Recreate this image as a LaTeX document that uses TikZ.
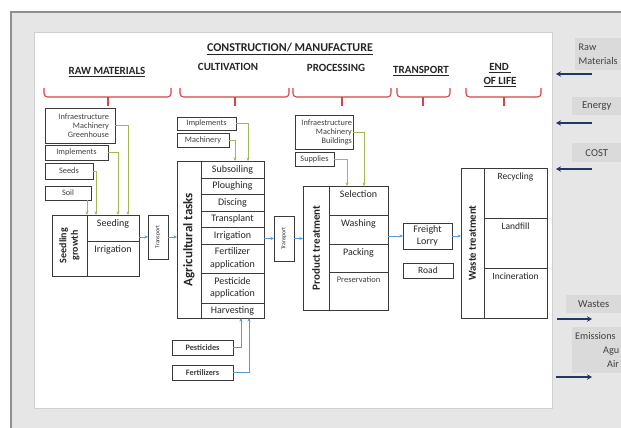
\documentclass[tikz,border=0pt]{standalone}
\usepackage{fontspec}
\setmainfont{Carlito}
\usetikzlibrary{arrows.meta}

\definecolor{bggray}{HTML}{E6E6E6}
\definecolor{lblgray}{HTML}{DADADA}
\definecolor{framegray}{HTML}{8F8F8F}
\definecolor{panelline}{HTML}{D0D0D0}
\definecolor{bracered}{HTML}{D64545}
\definecolor{linegreen}{HTML}{9BBB59}
\definecolor{lineblue}{HTML}{5B9BD5}
\definecolor{navyarrow}{HTML}{1F3864}
\definecolor{ink}{HTML}{262626}
\definecolor{softink}{HTML}{404040}
\definecolor{boxline}{HTML}{3A3A3A}

\begin{document}
\begin{tikzpicture}[x=1pt,y=-1pt,
  cell/.style={draw=boxline, line width=0.7pt, inner sep=0pt, outer sep=0pt,
    anchor=north west, text=ink, align=center,
    font=\fontsize{10}{12.5}\selectfont},
  smallbox/.style={cell, text=softink, font=\fontsize{8.3}{9}\selectfont},
  topname/.style={label={[anchor=north, yshift=-3pt, inner sep=1pt, text=ink,
    font=\fontsize{10}{12}\selectfont]north:#1}},
  heading/.style={text=ink, font=\bfseries\fontsize{11}{13.5}\selectfont,
    align=center, inner sep=0pt},
  brace/.style={draw=bracered, line width=1.1pt, rounded corners=3.5pt},
  gline/.style={draw=linegreen, line width=0.9pt,
    -{Stealth[length=3.5pt,width=3pt]}},
  bline/.style={draw=lineblue, line width=0.9pt,
    -{Stealth[length=3.5pt,width=3pt]}},
  navyline/.style={draw=navyarrow, line width=1.8pt,
    -{Stealth[length=5pt,width=5.5pt]}},
  sidebox/.style={fill=lblgray, anchor=north west, inner xsep=3pt, inner ysep=0pt,
    align=left, text=softink, font=\fontsize{10.6}{13.5}\selectfont},
]
\useasboundingbox (0,0) rectangle (621,428);
\clip (0,0) rectangle (621,428);

% page background, grey sheet and white working panel
\fill[white] (0,0) rectangle (621,428);
\fill[bggray] (11,12) rectangle (621,428);
\draw[framegray, line width=1.3pt] (11,428) -- (11,12) -- (621,12);
\draw[panelline, fill=white, line width=0.6pt] (34,32) rectangle (552,408);

% stage headings
\node[heading, font=\bfseries\fontsize{12}{14}\selectfont] (title) at (290,49)
  {\underline{CONSTRUCTION/ MANUFACTURE}};
\node[heading] (hraw)   at (107,72) {\underline{RAW MATERIALS}};
\node[heading] (hcult)  at (228,67) {CULTIVATION};
\node[heading] (hproc)  at (336,68) {PROCESSING};
\node[heading] (htrans) at (421,71) {\underline{TRANSPORT}};
\node[heading] (hend)   at (500,75) {\underline{END\,}\\\underline{OF LIFE}};

% red braces under the headings
\draw[brace] (44,88) -- (44,97) -- (171,97) -- (171,88);
\draw[brace] (108,97) -- (108,106);
\draw[brace] (180,88) -- (180,97) -- (289,97) -- (289,88);
\draw[brace] (235,97) -- (235,106);
\draw[brace] (293,88) -- (293,97) -- (391,97) -- (391,88);
\draw[brace] (342,97) -- (342,106);
\draw[brace] (397,88) -- (397,97) -- (450,97) -- (450,88);
\draw[brace] (423,97) -- (423,106);
\draw[brace] (466,88) -- (466,97) -- (541,97) -- (541,88);
\draw[brace] (504,97) -- (504,106);

% raw materials inputs
\node[smallbox, minimum width=70pt, minimum height=35pt, text width=58pt, align=right]
  (infraA) at (45,108) {Infraestructure\hspace*{4pt}\\Machinery\\Greenhouse};
\node[smallbox, minimum width=63pt, minimum height=15pt] (implA) at (45,145) {Implements};
\node[smallbox, minimum width=48pt, minimum height=16pt] (seeds) at (45,163) {Seeds};
\node[smallbox, minimum width=46pt, minimum height=14pt] (soil) at (45,186) {Soil};

% seedling block
\node[cell, minimum width=35pt, minimum height=61pt] (seedling) at (52,215) {};
\node[rotate=90, inner sep=0pt, text=ink, align=center,
  font=\bfseries\fontsize{10}{11.5}\selectfont] (seedlingtxt) at (seedling.center)
  {Seedling\\growth};
\node[cell, minimum width=52pt, minimum height=26pt, topname=Seeding] (seeding) at (87,215) {};
\node[cell, minimum width=52pt, minimum height=35pt, topname=Irrigation] (irrigA) at (87,241) {};

\node[cell, minimum width=20pt, minimum height=44pt] (trans1) at (148,215) {};
\node[rotate=90, inner sep=0pt, text=ink, font=\fontsize{5.8}{6}\selectfont]
  (trans1txt) at (trans1.center) {Transport};

% cultivation block
\node[smallbox, minimum width=59pt, minimum height=13pt] (implB) at (177,117) {Implements};
\node[smallbox, minimum width=52pt, minimum height=14pt] (machB) at (177,133) {Machinery};

\node[cell, minimum width=24pt, minimum height=157pt] (agtitle) at (177,161) {};
\node[rotate=90, inner sep=0pt, text=ink, font=\bfseries\fontsize{13}{13}\selectfont]
  (agtitletxt) at (agtitle.center) {Agricultural tasks};
\node[cell, minimum width=63pt, minimum height=17pt] (subsoil) at (201,161) {Subsoiling};
\node[cell, minimum width=63pt, minimum height=16pt] (plough) at (201,178) {Ploughing};
\node[cell, minimum width=63pt, minimum height=17pt] (disc) at (201,194) {Discing};
\node[cell, minimum width=63pt, minimum height=16pt] (transpl) at (201,211) {Transplant};
\node[cell, minimum width=63pt, minimum height=17pt] (irrigB) at (201,227) {Irrigation};
\node[cell, minimum width=63pt, minimum height=29pt] (fert) at (201,244) {Fertilizer\\application};
\node[cell, minimum width=63pt, minimum height=30pt] (pestapp) at (201,273) {Pesticide\\application};
\node[cell, minimum width=63pt, minimum height=15pt] (harvest) at (201,303) {Harvesting};

\node[smallbox, minimum width=61pt, minimum height=15pt, font=\bfseries\fontsize{8.3}{9}\selectfont]
  (pesticides) at (172,340) {Pesticides};
\node[smallbox, minimum width=61pt, minimum height=15pt, font=\bfseries\fontsize{8.3}{9}\selectfont]
  (fertilizers) at (172,365) {Fertilizers};

\node[cell, minimum width=20pt, minimum height=45pt] (trans2) at (274,216) {};
\node[rotate=90, inner sep=0pt, text=ink, font=\fontsize{5.8}{6}\selectfont]
  (trans2txt) at (trans2.center) {Transport};

% processing block
\node[smallbox, minimum width=58pt, minimum height=34pt, text width=56pt, align=right]
  (infraC) at (295,115) {Infraestructure\\Machinery\\Buildings};
\node[smallbox, minimum width=39pt, minimum height=14pt] (supplies) at (295,152) {Supplies};

\node[cell, minimum width=26pt, minimum height=124pt] (prodtitle) at (303,186) {};
\node[rotate=90, inner sep=0pt, text=ink, font=\bfseries\fontsize{11}{11}\selectfont]
  (prodtitletxt) at (prodtitle.center) {Product treatment};
\node[cell, minimum width=59pt, minimum height=29pt, topname=Selection] (selection) at (329,186) {};
\node[cell, minimum width=59pt, minimum height=29pt, topname=Washing] (washing) at (329,215) {};
\node[cell, minimum width=59pt, minimum height=28pt, topname=Packing] (packing) at (329,244) {};
\node[cell, minimum width=59pt, minimum height=38pt,
  label={[anchor=north, yshift=-3pt, inner sep=1pt, text=softink,
    font=\fontsize{8.5}{10}\selectfont]north:Preservation}] (preserv) at (329,272) {};

% transport block
\node[cell, minimum width=49pt, minimum height=26pt, font=\fontsize{10}{12}\selectfont]
  (freight) at (403,223) {Freight\\Lorry};
\node[cell, minimum width=50pt, minimum height=15pt, font=\fontsize{9.5}{11}\selectfont]
  (road) at (403,263) {Road};

% end of life block
\node[cell, minimum width=23pt, minimum height=150pt] (wastetitle) at (461,168) {};
\node[rotate=90, inner sep=0pt, text=ink, font=\bfseries\fontsize{10.7}{11}\selectfont]
  (wastetitletxt) at (wastetitle.center) {Waste treatment};
\node[cell, minimum width=63pt, minimum height=50pt,
  label={[anchor=north, yshift=-4pt, inner sep=1pt, text=ink,
    font=\fontsize{9.5}{11}\selectfont]north:Recycling}] (recycling) at (484,168) {};
\node[cell, minimum width=63pt, minimum height=50pt,
  label={[anchor=north, yshift=-4pt, inner sep=1pt, text=ink,
    font=\fontsize{9.5}{11}\selectfont]north:Landfill}] (landfill) at (484,218) {};
\node[cell, minimum width=63pt, minimum height=50pt,
  label={[anchor=north, yshift=-4pt, inner sep=1pt, text=ink,
    font=\fontsize{9.5}{11}\selectfont]north:Incineration}] (inciner) at (484,268) {};

% input lines (green)
\draw[gline] (infraA.east) -| ([xshift=41pt]seeding.north west);
\draw[gline] (implA.east) -| ([xshift=31pt]seeding.north west);
\draw[gline] (seeds.east) -| ([xshift=9pt]seeding.north west);
\draw[gline] (soil.south -| seeding.north west) -- (seeding.north west);
\draw[gline] (implB.east) -| ([xshift=47pt]subsoil.north west);
\draw[gline] (machB.east) -| ([xshift=34pt]subsoil.north west);
\draw[gline] (supplies.east) -| ([xshift=18pt]selection.north west);
\draw[gline] (infraC.east) -| ([xshift=35pt]selection.north west);

% agrochemical lines (blue)
\draw[bline] (pesticides.east) -| ([xshift=40pt]harvest.south west);
\draw[bline] (fertilizers.east) -| ([xshift=48pt]harvest.south west);

% product flow
\draw[bline] (trans1.west -| seeding.east) -- (trans1.west);
\draw[bline] (trans1.east) -- (trans1.east -| agtitle.west);
\draw[bline] (trans2.west -| irrigB.east) -- (trans2.west);
\draw[bline] (trans2.east) -- (trans2.east -| prodtitle.west);
\draw[bline] (freight.west -| washing.east) -- (freight.west);
\draw[bline] (freight.east) -- (freight.east -| wastetitle.west);

% inventory inputs and outputs (boxes run to the sheet's right edge)
\node[sidebox, minimum width=46pt, minimum height=32pt,
  font=\fontsize{10.2}{13.5}\selectfont] (rawin) at (575,38) {Raw\\Materials};
\node[sidebox, inner xsep=5pt, minimum width=49pt, minimum height=18pt] (energyin) at (572,97) {Energy};
\node[sidebox, inner xsep=5pt, minimum width=49pt, minimum height=19pt] (costin) at (572,143) {COST};
\node[sidebox, inner xsep=5pt, minimum width=55pt, minimum height=18pt] (wastesout) at (566,295) {Wastes};
\node[sidebox, minimum width=49pt, minimum height=46pt, font=\fontsize{10.2}{14}\selectfont]
  (emisout) at (572,327) {Emissions\\\hspace*{28pt}Agu\\\hspace*{32pt}Air};

\coordinate (rawA) at (592,74);   \coordinate (rawB) at (556,74);
\coordinate (enA) at (592,123);   \coordinate (enB) at (556,123);
\coordinate (costA) at (592,169); \coordinate (costB) at (556,169);
\coordinate (wsA) at (557,319);   \coordinate (wsB) at (592,319);
\coordinate (emA) at (556,377);   \coordinate (emB) at (592,377);
\draw[navyline] (rawA) -- (rawB);
\draw[navyline] (enA) -- (enB);
\draw[navyline] (costA) -- (costB);
\draw[navyline] (wsA) -- (wsB);
\draw[navyline] (emA) -- (emB);
\end{tikzpicture}
\end{document}
